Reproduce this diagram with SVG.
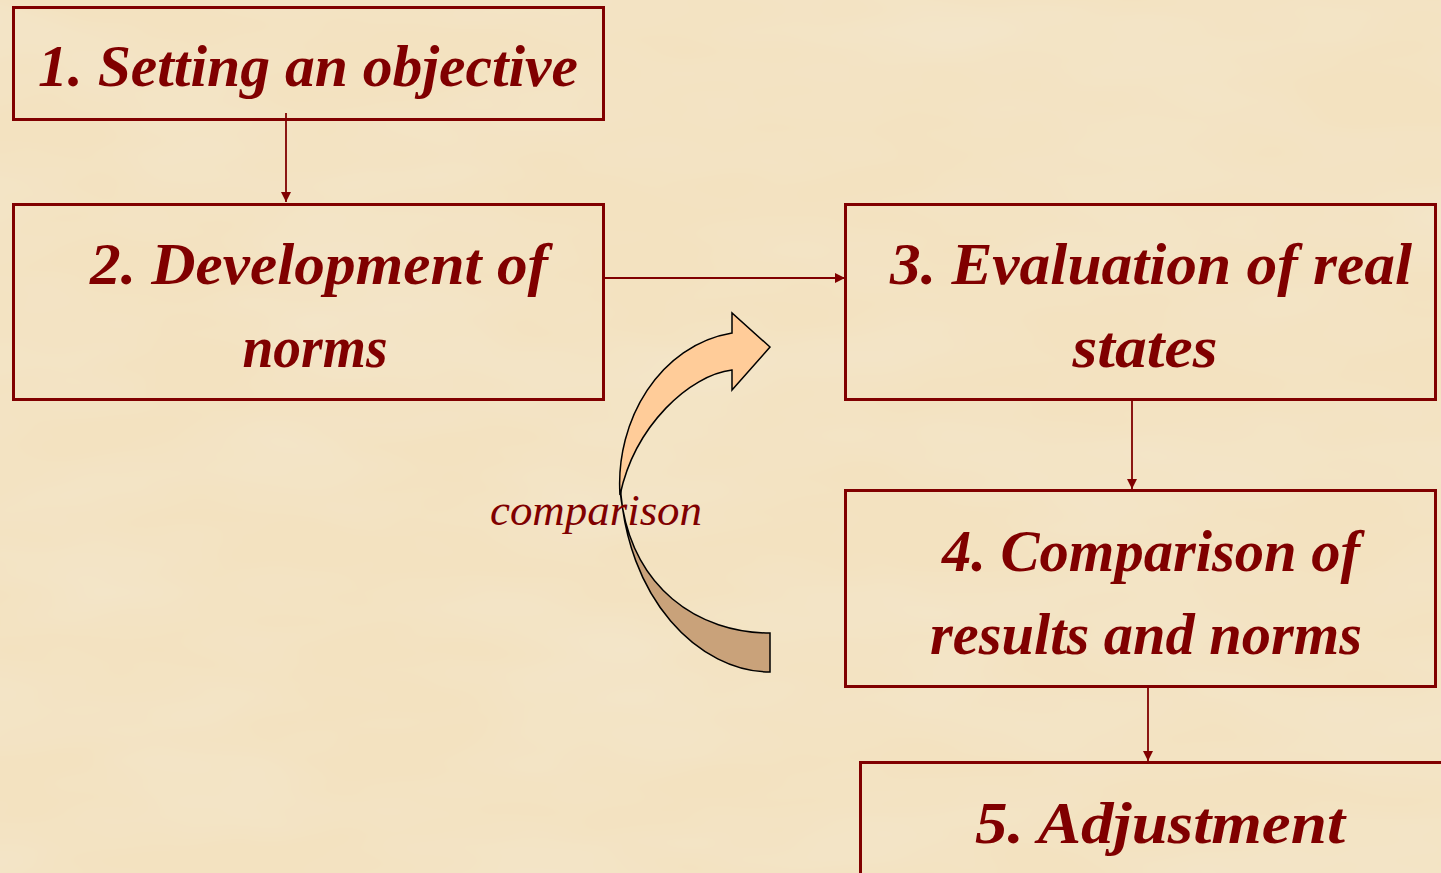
<svg xmlns="http://www.w3.org/2000/svg" width="1441" height="873" viewBox="0 0 1441 873">
<defs>
<filter id="parch" x="0" y="0" width="100%" height="100%">
<feTurbulence type="fractalNoise" baseFrequency="0.004 0.012" numOctaves="3" seed="7"/>
<feColorMatrix type="matrix" values="0 0 0 0 0.90  0 0 0 0 0.80  0 0 0 0 0.62  0 0 0 -1.1 0.75"/>
</filter>
<marker id="ah" viewBox="0 0 10 10" refX="10" refY="5" markerWidth="10" markerHeight="10" markerUnits="userSpaceOnUse" orient="auto">
<path d="M0,0 L10,5 L0,10 Z" fill="#800000"/>
</marker>
<style>
.box{fill:none;stroke:#800000;stroke-width:3}
.lbl{font-family:"Liberation Serif",serif;font-style:italic;font-weight:bold;font-size:60px;fill:#800000;text-anchor:middle}
.conn{stroke:#800000;stroke-width:1.8;fill:none}
.cmp{font-family:"Liberation Serif",serif;font-style:italic;font-size:45px;fill:#800000;text-anchor:middle}
</style>
</defs>
<rect x="0" y="0" width="1441" height="873" fill="#F3E2C0"/>
<rect x="0" y="0" width="1441" height="873" filter="url(#parch)"/>

<g id="connectors">
<line class="conn" x1="286" y1="113" x2="286" y2="202" marker-end="url(#ah)"/>
<line class="conn" x1="605" y1="278" x2="845" y2="278" marker-end="url(#ah)"/>
<line class="conn" x1="1132" y1="401" x2="1132" y2="489" marker-end="url(#ah)"/>
<line class="conn" x1="1148" y1="688" x2="1148" y2="761" marker-end="url(#ah)"/>
</g>

<g id="node1">
<rect class="box" x="13.5" y="7.5" width="590" height="112"/>
<text class="lbl" x="308" y="86" textLength="540" lengthAdjust="spacingAndGlyphs">1. Setting an objective</text>
</g>
<g id="node2">
<rect class="box" x="13.5" y="204.5" width="590" height="195"/>
<text class="lbl" x="319" y="284" textLength="458" lengthAdjust="spacingAndGlyphs">2. Development of</text>
<text class="lbl" x="315" y="367" textLength="145" lengthAdjust="spacingAndGlyphs">norms</text>
</g>
<g id="node3">
<rect class="box" x="845.5" y="204.5" width="590" height="195"/>
<text class="lbl" x="1151" y="284" textLength="522" lengthAdjust="spacingAndGlyphs">3. Evaluation of real</text>
<text class="lbl" x="1145" y="367" textLength="145" lengthAdjust="spacingAndGlyphs">states</text>
</g>
<g id="node4">
<rect class="box" x="845.5" y="490.5" width="590" height="196"/>
<text class="lbl" x="1151" y="571" textLength="418" lengthAdjust="spacingAndGlyphs">4. Comparison of</text>
<text class="lbl" x="1146" y="654" textLength="432" lengthAdjust="spacingAndGlyphs">results and norms</text>
</g>
<g id="node5">
<rect class="box" x="860.5" y="762.5" width="600" height="130"/>
<text class="lbl" x="1160" y="843" textLength="370" lengthAdjust="spacingAndGlyphs">5. Adjustment</text>
</g>

<g id="curved-arrow" stroke="#000" stroke-width="1.5" stroke-linejoin="miter">
<path d="M620,480 C625,600 700,672 770,672 L770,633 C700,633 630,590 620,490 Z" fill="#C9A27A"/>
<path d="M732,333 L732,313 L770,347 L732,390 L732,370 C690,375 635,425 620,495 C615,420 660,345 732,333 Z" fill="#FFCC99"/>
</g>
<g id="label-comparison">
<text class="cmp" x="596" y="525" textLength="212" lengthAdjust="spacingAndGlyphs">comparison</text>
</g>
</svg>
